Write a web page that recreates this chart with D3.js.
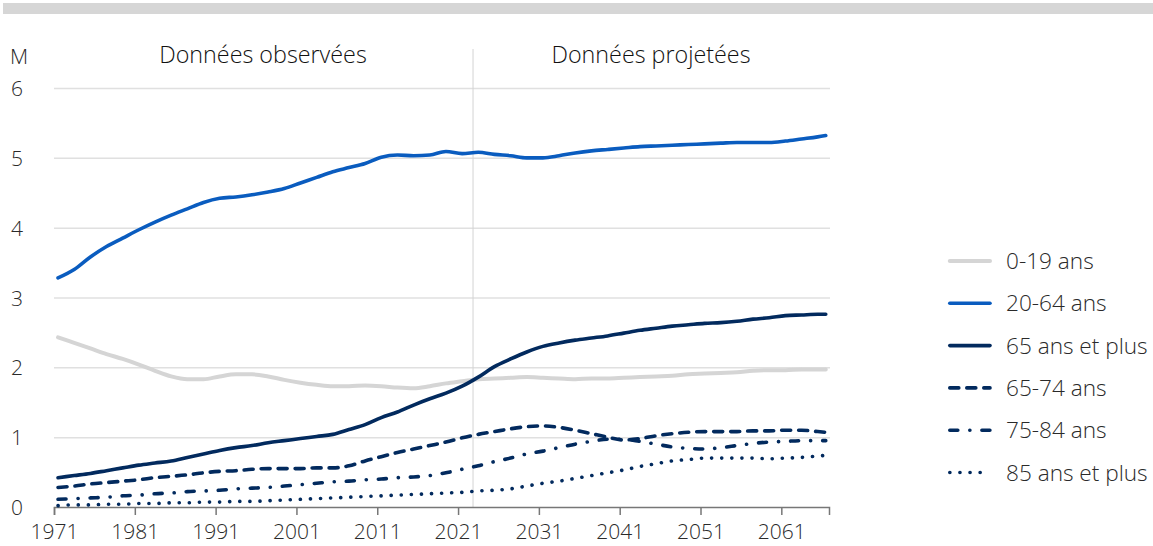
<!DOCTYPE html>
<html>
<head>
<meta charset="utf-8">
<script src="https://d3js.org/d3.v7.min.js"></script>
<style>
  body { margin: 0; background: #fff; }
  svg text { font-family: "Open Sans", "Noto Sans", sans-serif; font-weight: 300; }
</style>
</head>
<body>
<svg id="chart" width="1153" height="546"></svg>
<script>
// years (values are in millions, mid-year)
const years = [1971, 1973, 1975, 1977, 1979, 1981, 1983, 1985, 1987, 1989,
  1991, 1993, 1995, 1997, 1999, 2001, 2003, 2005, 2007, 2009,
  2011, 2013, 2015, 2017, 2019, 2021, 2023, 2025, 2027, 2029,
  2031, 2033, 2035, 2037, 2039, 2041, 2043, 2045, 2047, 2049,
  2051, 2053, 2055, 2057, 2059, 2061, 2063, 2065, 2066];

const age0to19 = [2.43, 2.35, 2.27, 2.19, 2.12, 2.04, 1.95, 1.87, 1.83, 1.83,
  1.87, 1.90, 1.90, 1.87, 1.82, 1.78, 1.75, 1.73, 1.73, 1.74,
  1.73, 1.71, 1.70, 1.73, 1.77, 1.80, 1.83, 1.84, 1.85, 1.86,
  1.85, 1.84, 1.83, 1.84, 1.84, 1.85, 1.86, 1.87, 1.88, 1.90,
  1.91, 1.92, 1.93, 1.95, 1.96, 1.96, 1.97, 1.97, 1.97];

const age20to64 = [3.28, 3.40, 3.58, 3.73, 3.85, 3.97, 4.08, 4.18, 4.27, 4.36,
  4.42, 4.44, 4.47, 4.51, 4.56, 4.64, 4.72, 4.80, 4.86, 4.92,
  5.01, 5.04, 5.03, 5.04, 5.09, 5.06, 5.08, 5.05, 5.03, 5.00,
  5.00, 5.03, 5.07, 5.10, 5.12, 5.14, 5.16, 5.17, 5.18, 5.19,
  5.20, 5.21, 5.22, 5.22, 5.22, 5.24, 5.27, 5.30, 5.32];

const age65plus = [0.42, 0.45, 0.48, 0.52, 0.56, 0.60, 0.63, 0.66, 0.71, 0.76,
  0.81, 0.85, 0.88, 0.92, 0.95, 0.98, 1.01, 1.04, 1.11, 1.18,
  1.28, 1.36, 1.46, 1.55, 1.63, 1.73, 1.86, 2.01, 2.12, 2.22,
  2.30, 2.35, 2.39, 2.42, 2.45, 2.49, 2.53, 2.56, 2.59, 2.61,
  2.63, 2.64, 2.66, 2.69, 2.71, 2.74, 2.75, 2.76, 2.76];

const age65to74 = [0.28, 0.30, 0.33, 0.35, 0.37, 0.39, 0.42, 0.44, 0.46, 0.49,
  0.51, 0.52, 0.54, 0.55, 0.55, 0.55, 0.56, 0.56, 0.59, 0.66,
  0.72, 0.78, 0.83, 0.88, 0.93, 0.99, 1.04, 1.08, 1.12, 1.15,
  1.16, 1.14, 1.10, 1.05, 1.00, 0.96, 0.98, 1.02, 1.05, 1.07,
  1.08, 1.08, 1.08, 1.09, 1.09, 1.10, 1.10, 1.08, 1.07];

const age75to84 = [0.11, 0.12, 0.13, 0.14, 0.16, 0.17, 0.19, 0.20, 0.22, 0.23,
  0.24, 0.26, 0.27, 0.28, 0.30, 0.32, 0.34, 0.36, 0.37, 0.39,
  0.40, 0.42, 0.43, 0.45, 0.49, 0.54, 0.59, 0.65, 0.70, 0.76,
  0.80, 0.85, 0.90, 0.94, 0.97, 0.97, 0.94, 0.90, 0.86, 0.84,
  0.83, 0.85, 0.88, 0.91, 0.93, 0.94, 0.95, 0.95, 0.95];

const age85plus = [0.02, 0.03, 0.03, 0.04, 0.04, 0.05, 0.05, 0.06, 0.06, 0.07,
  0.07, 0.08, 0.08, 0.09, 0.10, 0.11, 0.12, 0.13, 0.14, 0.15,
  0.16, 0.17, 0.18, 0.19, 0.20, 0.21, 0.23, 0.24, 0.26, 0.30,
  0.34, 0.37, 0.41, 0.45, 0.49, 0.53, 0.58, 0.62, 0.66, 0.68,
  0.70, 0.70, 0.70, 0.70, 0.69, 0.70, 0.71, 0.73, 0.74];

const seriesNames = ["0-19 ans", "20-64 ans", "65 ans et plus", "65-74 ans", "75-84 ans", "85 ans et plus"];
const xTicks = [1971, 1981, 1991, 2001, 2011, 2021, 2031, 2041, 2051, 2061];
const yTicks = [0, 1, 2, 3, 4, 5, 6];
const lastObservedYear = 2022.85;

// styles per series
const navy = "#022a5e";
const styles = [
  { color: "#d5d5d5", width: 4, dash: null },
  { color: "#0a5cbf", width: 3.6, dash: null },
  { color: navy, width: 3.6, dash: null },
  { color: navy, width: 3.6, dash: "9,8" },
  { color: navy, width: 3.6, dash: "8,12,0.1,12" },
  { color: navy, width: 3.6, dash: "0.1,10" }
];
const allValues = [age0to19, age20to64, age65plus, age65to74, age75to84, age85plus];
const series = seriesNames.map((name, i) => ({
  name: name,
  style: styles[i],
  points: years.map((yr, j) => ({ year: yr, value: allValues[i][j] }))
}));

let svg = d3.select("#chart");
const plotLeft = 54, plotRight = 829, plotTop = 88, plotBottom = 507;

// grey band at the top
svg.append("rect")
  .attr("x", 3).attr("y", 3)
  .attr("width", 1150).attr("height", 11)
  .attr("fill", "#d6d6d6");

let xScale = d3.scaleLinear()
  .domain([1971, 2066.9])
  .range([plotLeft, plotRight]);
let yScale = d3.scaleLinear()
  .domain([0, 6])
  .range([plotBottom, plotTop]);

// horizontal grid + y labels
let yAxis = svg.append("g")
  .attr("transform", `translate(${plotLeft},0)`)
  .call(d3.axisLeft(yScale).tickValues(yTicks).tickFormat(d3.format("d"))
    .tickSize(-(plotRight + 1 - plotLeft)).tickPadding(0));
yAxis.select(".domain").remove();
yAxis.selectAll(".tick line")
  .attr("stroke", "#e0e0e0")
  .attr("stroke-width", 1.5)
  .attr("opacity", d => d === 0 ? 0 : 1);
yAxis.selectAll(".tick text")
  .attr("x", 11 - plotLeft)
  .attr("dy", "0.36em")
  .attr("text-anchor", "start")
  .attr("fill", "#2a2a2a")
  .style("font-size", "21px");

// vertical separator between observed and projected
svg.append("line")
  .attr("x1", xScale(lastObservedYear)).attr("x2", xScale(lastObservedYear))
  .attr("y1", 49).attr("y2", plotBottom)
  .attr("stroke", "#d3d3d3")
  .attr("stroke-width", 1);

// x axis
let xAxis = svg.append("g")
  .attr("transform", `translate(0,${plotBottom})`)
  .call(d3.axisBottom(xScale).tickValues(xTicks).tickFormat(d3.format("d")).tickSize(8).tickPadding(9));
xAxis.select(".domain").attr("stroke", "#777").attr("stroke-width", 1.5);
xAxis.selectAll(".tick line").attr("stroke", "#777").attr("stroke-width", 1.5);
xAxis.selectAll(".tick text")
  .attr("fill", "#2a2a2a")
  .style("font-size", "21px");

// lines (values are mid-year)
let lineGen = d3.line()
  .x(d => xScale(d.year + 0.5))
  .y(d => yScale(d.value))
  .curve(d3.curveMonotoneX);

svg.append("g").selectAll("path")
  .data(series)
  .join("path")
  .attr("fill", "none")
  .attr("stroke", d => d.style.color)
  .attr("stroke-width", d => d.style.width)
  .attr("stroke-linecap", "round")
  .attr("stroke-linejoin", "round")
  .attr("stroke-dasharray", d => d.style.dash)
  .attr("d", d => lineGen(d.points));

// header labels
svg.append("text")
  .attr("x", 10).attr("y", 56).attr("dy", "0.36em")
  .attr("fill", "#2a2a2a").style("font-size", "21px")
  .text("M");
svg.append("text")
  .attr("x", 263).attr("y", 55).attr("dy", "0.36em")
  .attr("text-anchor", "middle")
  .attr("fill", "#111").style("font-size", "23.3px")
  .text("Données observées");
svg.append("text")
  .attr("x", 651).attr("y", 55).attr("dy", "0.36em")
  .attr("text-anchor", "middle")
  .attr("fill", "#111").style("font-size", "23.3px")
  .text("Données projetées");

// legend
let legend = svg.append("g").attr("transform", "translate(948,261)");
let items = legend.selectAll("g")
  .data(series)
  .join("g")
  .attr("transform", (d, i) => `translate(0,${i * 42.3})`);
items.append("line")
  .attr("x1", 1.8).attr("x2", 42)
  .attr("stroke", d => d.style.color)
  .attr("stroke-width", d => d.style.width)
  .attr("stroke-linecap", "round")
  .attr("stroke-dasharray", d => d.style.dash);
items.append("text")
  .attr("x", 58).attr("dy", "0.36em")
  .attr("fill", "#2a2a2a")
  .style("font-size", "22.6px")
  .text(d => d.name);
</script>
</body>
</html>
